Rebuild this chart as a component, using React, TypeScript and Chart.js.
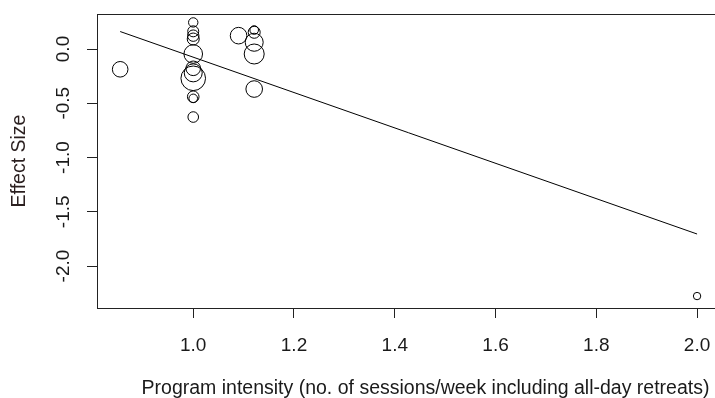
import React, { useEffect, useRef } from "react";
import { Chart, registerables } from "chart.js";

Chart.register(...registerables);

// Study-level data (moderator = sessions/week, effect size, relative weight)
const studyIntensity = [1.0, 1.0, 1.0, 1.0, 1.0, 1.0, 1.0, 1.0, 1.0, 1.0, 1.0, 1.09, 1.121, 1.121, 1.121, 1.121, 1.121, 0.855, 2.0];
const studyEffect = [0.245, 0.163, 0.123, 0.092, -0.046, -0.178, -0.22, -0.27, -0.44, -0.455, -0.627, 0.123, 0.175, 0.154, 0.062, -0.046, -0.369, -0.187, -2.277];
const studyWeight = [4.7, 5.5, 5.7, 6.0, 9.3, 7.3, 9.0, 12.3, 5.8, 4.3, 5.3, 8.3, 4.3, 6.0, 9.0, 10.0, 8.3, 7.8, 3.7];

// Meta-regression line endpoints
const regLineX = [0.855, 2.0];
const regLineY = [0.161, -1.705];

// Axis ticks
const xTickValues = [1.0, 1.2, 1.4, 1.6, 1.8, 2.0];
const yTickValues = [0.0, -0.5, -1.0, -1.5, -2.0];

const xTitle = "Program intensity (no. of sessions/week including all-day retreats)";
const yTitle = "Effect Size";

const FONT = "'Liberation Sans', Arial, sans-serif";
const INK = "#1a1a1a";

const boxPlugin = {
  id: "rbox",
  afterDraw(chart: any) {
    const { ctx, chartArea } = chart;
    ctx.save();
    ctx.strokeStyle = "#222";
    ctx.lineWidth = 1;
    ctx.strokeRect(
      Math.round(chartArea.left) + 0.5,
      Math.round(chartArea.top) + 0.5,
      Math.round(chartArea.right - chartArea.left),
      Math.round(chartArea.bottom - chartArea.top)
    );
    ctx.restore();
  },
};

export default function App() {
  const ref = useRef<HTMLCanvasElement | null>(null);

  useEffect(() => {
    if (!ref.current) return;
    const bubbles = studyIntensity.map((x, i) => ({ x, y: studyEffect[i], r: studyWeight[i] }));
    const line = regLineX.map((x, i) => ({ x, y: regLineY[i] }));
    const chart = new Chart(ref.current, {
      type: "bubble",
      data: {
        datasets: [
          {
            type: "line",
            data: line,
            borderColor: "#000",
            borderWidth: 1,
            pointRadius: 0,
            fill: false,
            order: 2,
          } as any,
          {
            type: "bubble",
            data: bubbles,
            borderColor: "#000",
            borderWidth: 1,
            backgroundColor: "rgba(0,0,0,0)",
            hoverRadius: 0,
            order: 1,
          } as any,
        ],
      },
      plugins: [boxPlugin],
      options: {
        responsive: false,
        animation: false,
        events: [],
        layout: { autoPadding: false, padding: { left: 0, top: 14, right: 6, bottom: 0 } },
        plugins: { legend: { display: false }, tooltip: { enabled: false } },
        scales: {
          x: {
            type: "linear",
            min: 0.809,
            max: 2.113,
            afterFit: (s: any) => {
              s.height = 90;
              s.paddingLeft = 0;
              s.paddingRight = 0;
            },
            afterBuildTicks: (s: any) => {
              s.ticks = xTickValues.map((v) => ({ value: v }));
            },
            grid: {
              display: true,
              drawOnChartArea: false,
              drawTicks: true,
              tickLength: 10,
              color: "#222",
              lineWidth: 1,
            },
            border: { display: false },
            ticks: {
              color: INK,
              font: { family: FONT, size: 19 },
              padding: 16,
              maxRotation: 0,
              minRotation: 0,
              autoSkip: false,
              callback: (v: any) => Number(v).toFixed(1),
            },
            title: {
              display: true,
              text: xTitle,
              color: INK,
              font: { family: FONT, size: 19.5 },
              padding: { top: 0, bottom: -2 },
            },
          },
          y: {
            type: "linear",
            min: -2.387,
            max: 0.3226,
            afterFit: (s: any) => {
              s.width = 97;
              s.paddingTop = 0;
              s.paddingBottom = 0;
            },
            afterBuildTicks: (s: any) => {
              s.ticks = yTickValues.map((v) => ({ value: v }));
            },
            grid: {
              display: true,
              drawOnChartArea: false,
              drawTicks: true,
              tickLength: 10,
              color: "#222",
              lineWidth: 1,
            },
            border: { display: false },
            ticks: {
              color: INK,
              font: { family: FONT, size: 19 },
              padding: 7,
              minRotation: 90,
              maxRotation: 90,
              crossAlign: "center",
              autoSkip: false,
              callback: (v: any) => Number(v).toFixed(1),
            },
            title: {
              display: true,
              text: yTitle,
              color: "#2a1f1f",
              font: { family: FONT, size: 19.5 },
              padding: { top: 8, bottom: 0 },
            },
          },
        },
      },
    });
    return () => chart.destroy();
  }, []);

  return (
    <div style={{ position: "absolute", left: 0, top: 0, width: 715, height: 398, overflow: "hidden", background: "#fff" }}>
      <canvas ref={ref} width={760} height={398} style={{ display: "block" }} />
    </div>
  );
}
